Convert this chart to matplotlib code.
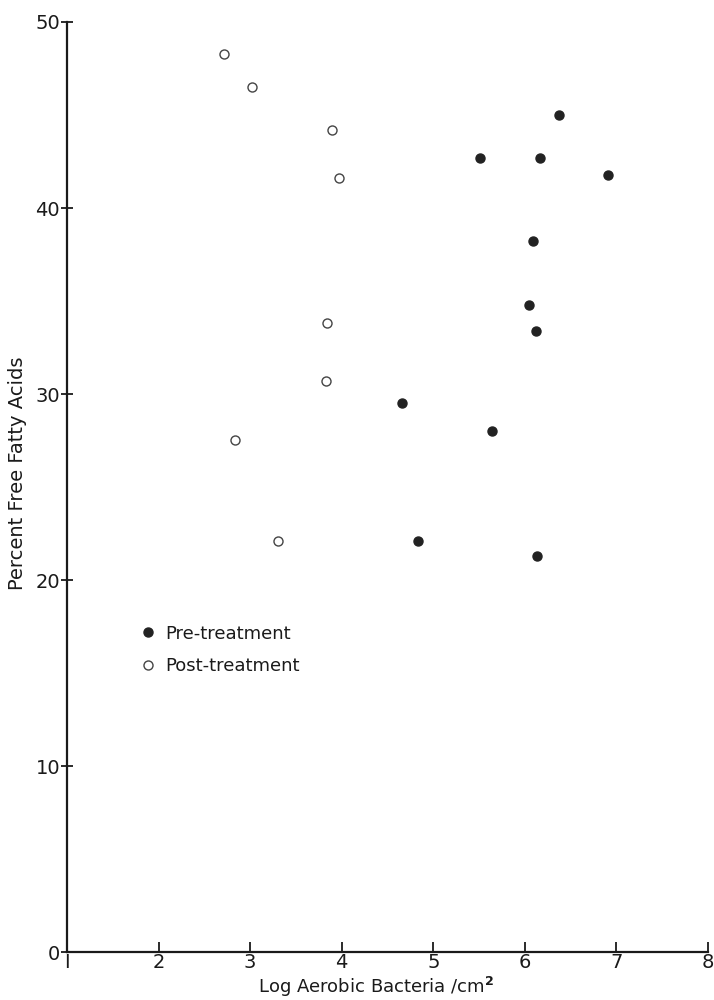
import matplotlib
matplotlib.use("Agg")
import matplotlib.pyplot as plt

# values
pre_x = [6.37, 5.51, 6.17, 6.91, 6.09, 6.04, 6.12, 4.66, 5.64, 4.83, 6.13]
pre_y = [45.0, 42.7, 42.7, 41.8, 38.2, 34.8, 33.4, 29.5, 28.0, 22.1, 21.3]
post_x = [2.71, 3.02, 3.89, 3.97, 3.84, 3.83, 2.83, 3.30]
post_y = [48.3, 46.5, 44.2, 41.6, 33.8, 30.7, 27.5, 22.1]
xticks = [1, 2, 3, 4, 5, 6, 7, 8]
yticks = [0, 10, 20, 30, 40, 50]

plt.rcParams['font.family'] = ['DejaVu Sans']

fig = plt.figure(figsize=(7.14, 10), dpi=100)
ax = fig.add_axes([0.0938, 0.048, 0.8978, 0.930])

ax.plot(pre_x, pre_y, 'o', color='#222222', markersize=6.5, linestyle='none',
        label='Pre-treatment', clip_on=False)
ax.plot(post_x, post_y, 'o', markerfacecolor='white', markeredgecolor='#444444',
        markeredgewidth=1.0, markersize=6.5, linestyle='none',
        label='Post-treatment', clip_on=False)

ax.set_xlim(1, 8)
ax.set_ylim(0, 50)
ax.set_xticks(xticks)
ax.set_yticks(yticks)
ax.set_xticklabels(['I' if t == 1 else str(t) for t in xticks])

for side in ['top', 'right']:
    ax.spines[side].set_visible(False)
for side in ['left', 'bottom']:
    ax.spines[side].set_linewidth(1.6)
    ax.spines[side].set_color('#1a1a1a')

ax.tick_params(axis='x', direction='in', length=7, width=1.3,
               labelsize=14, pad=1, colors='#1a1a1a')
ax.tick_params(axis='y', direction='inout', length=8, width=1.3,
               labelsize=14, pad=1, colors='#1a1a1a')

ax.set_xlabel('Log Aerobic Bacteria /cm$^{\\mathbf{2}}$', fontsize=13,
              color='#1a1a1a')
ax.xaxis.set_label_coords(0.482, -0.025)
ax.set_ylabel('Percent Free Fatty Acids', fontsize=14, color='#1a1a1a')
ax.yaxis.set_label_coords(-0.062, 0.515)

ax.legend(loc='upper left', bbox_to_anchor=(0.112, 0.352), frameon=False,
          fontsize=13, handletextpad=0.44, labelspacing=0.8,
          borderpad=0, borderaxespad=0, handlelength=1.0,
          labelcolor='#1a1a1a')

fig.savefig('out.png', dpi=100, facecolor='white')
